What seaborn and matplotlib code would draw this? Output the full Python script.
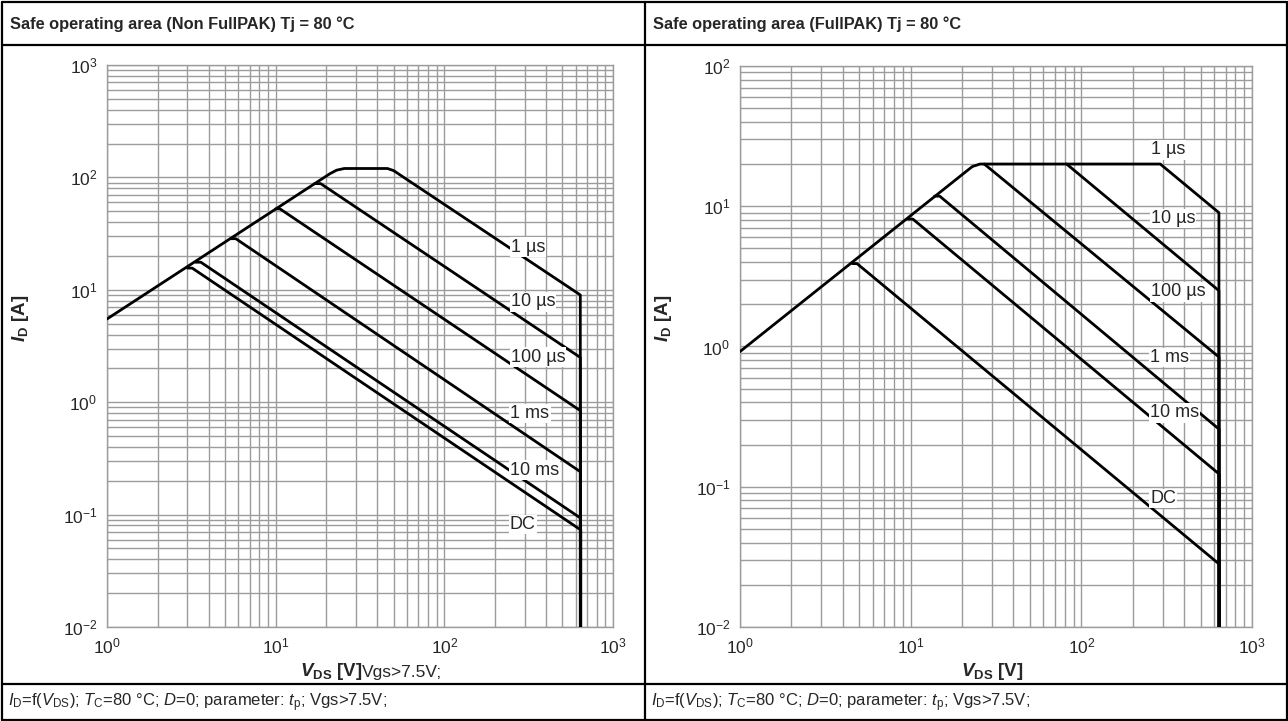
import numpy as np
import pandas as pd
import matplotlib
matplotlib.use("Agg")
import matplotlib.pyplot as plt
import seaborn as sns
from matplotlib.lines import Line2D

sns.set_style("white")
plt.rcParams['font.family'] = ['Liberation Sans', 'DejaVu Sans']
plt.rcParams['mathtext.fontset'] = 'custom'
plt.rcParams['mathtext.rm'] = 'Liberation Sans'
plt.rcParams['mathtext.it'] = 'Liberation Sans:italic'
plt.rcParams['mathtext.bf'] = 'Liberation Sans:bold'
plt.rcParams['mathtext.bfit'] = 'Liberation Sans:bold:italic'
plt.rcParams['axes.unicode_minus'] = False

# ---- data: Non FullPAK (left) ----
left_curves = {
    "1 µs":   ([1, 21, 23, 25.5, 46, 50, 640, 640], [5.5, 108, 116, 120, 120, 115, 9.0, 0.01]),
    "10 µs":  ([17, 18.5, 640, 640], [88, 88, 2.5, 0.01]),
    "100 µs": ([10.0, 10.6, 641, 641], [52.5, 52.5, 0.84, 0.01]),
    "1 ms":   ([5.4, 5.8, 642, 642], [28.5, 28.5, 0.24, 0.01]),
    "10 ms":  ([3.35, 3.6, 643, 643], [17.6, 17.6, 0.093, 0.01]),
    "DC":     ([3.0, 3.2, 644, 644], [15.6, 15.6, 0.073, 0.01]),
}
left_label_v = [313, 335, 359, 322, 344, 292]
left_label_i = [24, 7.8, 2.52, 0.80, 0.249, 0.081]

# ---- data: FullPAK (right) ----
right_curves = {
    "1 µs":   ([1, 21, 23, 25.5, 290, 640, 640], [0.92, 17.6, 19.2, 20, 20, 9.0, 0.01]),
    "10 µs":  ([82, 640, 640], [20, 2.5, 0.01]),
    "100 µs": ([27, 641, 641], [20, 0.84, 0.01]),
    "1 ms":   ([13.8, 14.8, 642, 642], [11.8, 11.8, 0.257, 0.01]),
    "10 ms":  ([9.6, 10.3, 643, 643], [8.1, 8.1, 0.123, 0.01]),
    "DC":     ([4.55, 4.85, 644, 644], [3.9, 3.9, 0.028, 0.01]),
}
right_label_v = [322, 344, 368, 330, 353, 301]
right_label_i = [25.2, 8.2, 2.45, 0.83, 0.336, 0.083]

titles = ["Safe operating area (Non FullPAK) Tj = 80 °C",
          "Safe operating area (FullPAK) Tj = 80 °C"]
vds_label = r"$\mathbfit{V}_{\mathbf{DS}}$ [V]"
id_label = r"$\mathbfit{I}_{\mathbf{D}}$ [A]"
footer = (r"$\mathit{I}_{\mathrm{D}}$=f($\mathit{V}_{\mathrm{DS}}$); $\mathit{T}_{\mathrm{C}}$=80 °C; "
          r"$\mathit{D}$=0; parameter: $\mathit{t}_{\mathrm{p}}$; Vgs>7.5V;")

W, H = 1288, 721
fig = plt.figure(figsize=(W / 100, H / 100), dpi=100)


def fx(px):
    return px / W


def fy(py):
    return 1 - py / H


axL = fig.add_axes([fx(107), fy(627), (613 - 107) / W, (627 - 65) / H])
axR = fig.add_axes([fx(740), fy(627), (1252 - 740) / W, (627 - 66) / H])

grid_c = '#9c9c9c'
panels = [(axL, left_curves, left_label_v, left_label_i, (1e-2, 1e3), -0.151),
          (axR, right_curves, right_label_v, right_label_i, (1e-2, 1e2), -0.128)]
for ax, curves, lv, li, ylim, ylx in panels:
    for name, (v, i) in curves.items():
        df = pd.DataFrame({"V": v, "I": i})
        sns.lineplot(data=df, x="V", y="I", ax=ax, color='black', lw=2.0,
                     sort=False, estimator=None, solid_joinstyle='round', zorder=3)
    ax.set_xscale('log')
    ax.set_yscale('log')
    ax.set_xlim(1, 1e3)
    ax.set_ylim(*ylim)
    ax.grid(True, which='both', color=grid_c, lw=1.0)
    ax.set_axisbelow(True)
    for s in ax.spines.values():
        s.set_color(grid_c)
        s.set_linewidth(1.0)
    ax.tick_params(which='major', length=5, color=grid_c, labelsize=12.5, pad=2)
    ax.tick_params(which='minor', length=0)
    for name, x, y in zip(curves.keys(), lv, li):
        ax.text(x, y, name, ha='center', va='center', fontsize=13, zorder=4,
                bbox=dict(fc='white', ec='none', pad=0.8))
    ax.set_ylabel(id_label, fontsize=13.5, fontweight='bold')
    ax.yaxis.set_label_coords(ylx, 0.55)
    ax.set_xlabel("")

fig.text(fx(362), fy(672), vds_label, fontsize=13.5, fontweight='bold', ha='right', va='center')
fig.text(fx(362), fy(672), "Vgs>7.5V;", fontsize=12.5, ha='left', va='center')
fig.text(fx(992), fy(672), vds_label, fontsize=13.5, fontweight='bold', ha='center', va='center')

# table frame
def hline(y, x0=1.5, x1=1286.5, lw=1.6):
    fig.add_artist(Line2D([fx(x0), fx(x1)], [fy(y), fy(y)], color='black', lw=lw))


def vline(x, y0=1.5, y1=719.5, lw=1.6):
    fig.add_artist(Line2D([fx(x), fx(x)], [fy(y0), fy(y1)], color='black', lw=lw))


hline(1.5)
hline(45)
hline(684)
hline(719.5)
vline(1.5)
vline(645)
vline(1286.5)

fig.text(fx(10), fy(24), titles[0], fontsize=11.8, fontweight='bold', va='center')
fig.text(fx(653), fy(24), titles[1], fontsize=11.8, fontweight='bold', va='center')
fig.text(fx(8), fy(703), footer, fontsize=12, va='center')
fig.text(fx(651), fy(703), footer, fontsize=12, va='center')

fig.savefig("out.png", dpi=100)
